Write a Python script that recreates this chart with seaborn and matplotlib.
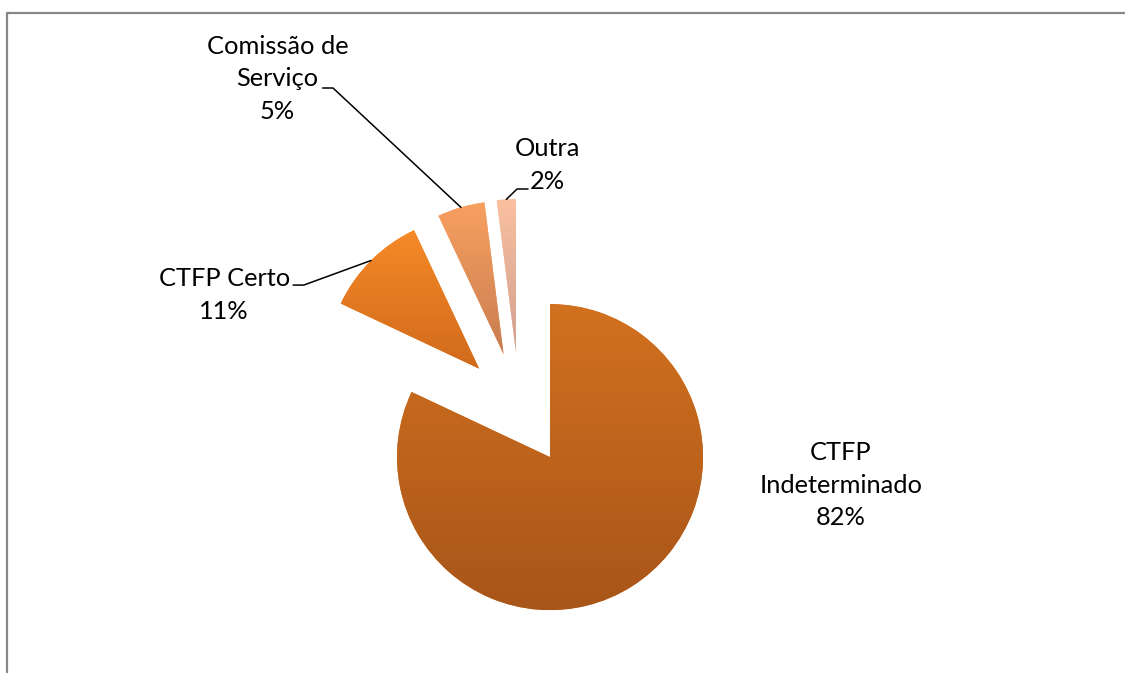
import numpy as np
import matplotlib.pyplot as plt
import seaborn as sns

# --- dados do gráfico ---
categorias = ['CTFP\nIndeterminado', 'CTFP Certo', 'Comissão de\nServiço', 'Outra']
percentagens = [82, 11, 5, 2]

# cores (gradiente vertical de cada fatia: topo -> base)
cores_topo = ['#D2711F', '#F68A28', '#F8A060', '#FAC0A0']
cores_base = ['#A85519', '#D06A1C', '#C87D50', '#D0A090']

# posições dos rótulos e das linhas de chamada (coordenadas do eixo)
pos_rotulos = [(2.101, -0.497), (-1.930, 0.745), (-1.582, 2.157), (0.183, 1.595)]
linhas_chamada = [None,
                  [(-1.480, 0.810), (-1.410, 0.810)],
                  [(-1.287, 2.098), (-1.219, 2.098)],
                  [(0.056, 1.438), (-0.016, 1.438)]]

sns.set_theme(style='white')
plt.rcParams['font.family'] = ['Lato', 'DejaVu Sans']

fig = plt.figure(figsize=(11.25, 6.73), dpi=100)
ax = fig.add_axes([0, 0, 1, 1])

wedges, _ = ax.pie(percentagens, explode=[0.3725] * len(percentagens), startangle=90,
                   counterclock=False, radius=1, center=(0, 0),
                   wedgeprops=dict(linewidth=0))

# gradiente em cada fatia, recortado pela própria fatia
for w, c1, c2 in zip(wedges, cores_topo, cores_base):
    grad = np.array(sns.blend_palette([c1, c2], 256))[:, None, :3]
    ext = w.get_path().get_extents()
    w.set_facecolor(c1)
    im = ax.imshow(grad, extent=(ext.x0, ext.x1, ext.y0, ext.y1), origin='upper',
                   aspect='auto', interpolation='bilinear', zorder=3)
    im.set_clip_path(w)

# rótulos e linhas de chamada
for w, cat, p, pos, linha in zip(wedges, categorias, percentagens, pos_rotulos, linhas_chamada):
    ax.text(pos[0], pos[1], f'{cat}\n{p}%', ha='center', va='center', fontsize=18.3,
            linespacing=1.5, color='black', zorder=5)
    if linha is not None:
        ang = np.deg2rad((w.theta1 + w.theta2) / 2)
        cx, cy = w.center
        ponta = (cx + w.r * np.cos(ang), cy + w.r * np.sin(ang))
        xs = [linha[0][0], linha[1][0], ponta[0]]
        ys = [linha[0][1], linha[1][1], ponta[1]]
        ax.plot(xs, ys, color='black', linewidth=1.1, zorder=4)

ax.set_xlim(-519.5 / 153, (1125 - 519.5) / 153)
ax.set_ylim(-(673 - 409) / 153, 409 / 153)
ax.set_aspect('equal')
ax.set_axis_off()

# moldura cinzenta (esquerda e topo)
fig.add_artist(plt.Line2D([7 / 1125, 7 / 1125], [0, 1 - 13 / 673], color='#888888', linewidth=1.6))
fig.add_artist(plt.Line2D([7 / 1125, 1], [1 - 13 / 673, 1 - 13 / 673], color='#888888', linewidth=1.6))

fig.savefig('out.png', dpi=100)
